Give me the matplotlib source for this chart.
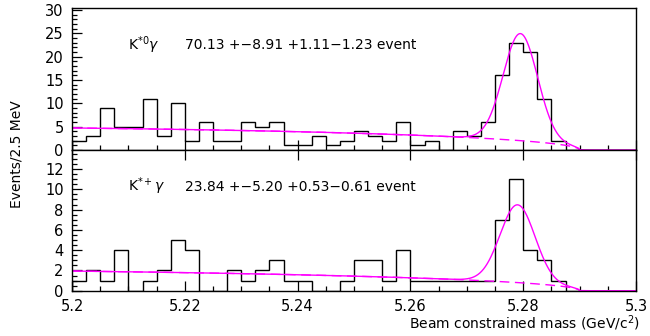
import numpy as np
import matplotlib
matplotlib.use("Agg")
import matplotlib.pyplot as plt
from matplotlib.ticker import MultipleLocator

plt.rcParams['font.family'] = ['DejaVu Sans']
plt.rcParams['mathtext.fontset'] = 'dejavusans'

# Mbc histograms, 2.5 MeV bins from 5.20 to 5.30 GeV
mbc_lo, mbc_hi, nbins = 5.2, 5.3, 40
counts_k0 = [2, 3, 9, 5, 5, 11, 3, 10, 2, 6, 2, 2, 6, 5, 6, 1, 1, 3, 1, 2,
             4, 3, 2, 6, 1, 2, 0, 4, 3, 6, 16, 23, 21, 11, 2, 0, 0, 0, 0, 0]
counts_kp = [1, 2, 1, 4, 0, 1, 2, 5, 4, 0, 0, 2, 1, 2, 3, 1, 1, 0, 0, 1,
             3, 3, 1, 4, 1, 1, 1, 1, 1, 1, 7, 11, 4, 3, 1, 0, 0, 0, 0, 0]

# fit results: signal yield, gaussian mean/sigma, ARGUS shape and level at 5.2
yields = [70.13, 23.84]
yield_text = ["70.13 +\u22128.91 +1.11\u22121.23 event",
              "23.84 +\u22125.20 +0.53\u22120.61 event"]
modes = [r"K$^{*0}\gamma$", r"K$^{*+}\gamma$"]
sig_mean = [5.2795, 5.279]
sig_width = [0.00305, 0.0031]
argus_c = [-6.6, -5.0]
bkg_at_lo = [4.72, 1.94]
e_beam = 5.29
ymax = [30.35, 13.88]
ymajor = [5, 2]
yminor = [1, 0.5]

def argus(m, c):
    x = np.clip(m / e_beam, 0, 1)
    return m * np.sqrt(1 - x**2) * np.exp(c * (1 - x**2))

fig = plt.figure(figsize=(6.5, 3.36), dpi=100)
ax_top = fig.add_axes([0.1108, 0.5536, 0.8677, 0.4217])
ax_bot = fig.add_axes([0.1108, 0.1348, 0.8677, 0.4188])

edges = np.linspace(mbc_lo, mbc_hi, nbins + 1)
bw = edges[1] - edges[0]
m = np.linspace(mbc_lo, mbc_hi, 600)
mb = np.linspace(mbc_lo, e_beam, 400)

for i, (ax, counts) in enumerate([(ax_top, counts_k0), (ax_bot, counts_kp)]):
    ax.stairs(counts, edges, color='black', lw=1.0)
    scale = bkg_at_lo[i] / argus(mbc_lo, argus_c[i])
    gauss = yields[i] * bw / (np.sqrt(2 * np.pi) * sig_width[i]) * \
        np.exp(-0.5 * ((m - sig_mean[i]) / sig_width[i])**2)
    ax.plot(m, gauss + scale * argus(m, argus_c[i]), color='#ff00ff', lw=1.0)
    ax.plot(mb, scale * argus(mb, argus_c[i]), color='#ff00ff', lw=1.0,
            ls=(0, (7, 4)))
    ax.set_xlim(mbc_lo, mbc_hi)
    ax.set_ylim(0, ymax[i])
    ax.xaxis.set_major_locator(MultipleLocator(0.02))
    ax.xaxis.set_minor_locator(MultipleLocator(0.005))
    ax.yaxis.set_major_locator(MultipleLocator(ymajor[i]))
    ax.yaxis.set_minor_locator(MultipleLocator(yminor[i]))
    ax.tick_params(which='both', direction='in', right=False, labelsize=10.5,
                   width=0.9)
    ax.tick_params(which='major', length=7.5)
    ax.tick_params(which='minor', length=3.6)
    ax.tick_params(axis='y', pad=6)
    for s in ax.spines.values():
        s.set_linewidth(1.0)
    ax.text(0.099, 0.74, modes[i], transform=ax.transAxes, fontsize=10,
            va='center', ha='left')
    ax.text(0.2, 0.74, yield_text[i], transform=ax.transAxes, fontsize=10,
            va='center', ha='left')

ax_top.tick_params(axis='x', top=False, bottom=True, labelbottom=False)
ax_bot.tick_params(axis='x', top=True, bottom=True, pad=6)
ax_bot.set_xticks([5.2, 5.22, 5.24, 5.26, 5.28, 5.3])
ax_bot.set_xticklabels(["5.2", "5.22", "5.24", "5.26", "5.28", "5.3"])

fig.text(0.025, 0.54, "Events/2.5 MeV", rotation=90, fontsize=10,
         ha='center', va='center')
fig.text(0.985, 0.038, r"Beam constrained mass (GeV/c$^{2}$)", fontsize=10,
         ha='right', va='center')

fig.savefig("out.png", dpi=100)
